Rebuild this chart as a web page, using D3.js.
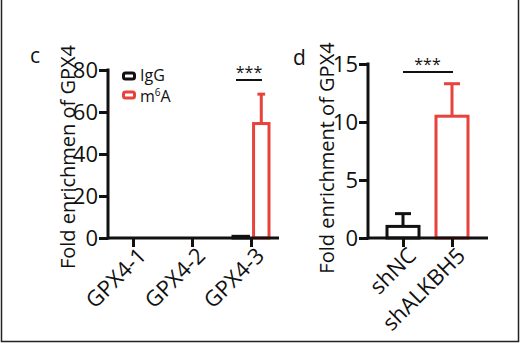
<!DOCTYPE html>
<html><head><meta charset="utf-8">
<script src="https://cdn.jsdelivr.net/npm/d3@7"></script>
<style>
body{margin:0;background:#fff;}
svg{display:block;}
text{font-family:"Open Sans",sans-serif;fill:#111;}
</style></head>
<body>
<svg id="chart" width="520" height="343"></svg>
<script>
// Panel c data
const cCategories = ["GPX4-1", "GPX4-2", "GPX4-3"];
const cSeries = ["IgG", "m6A"];
const cIgG = [0, 0, 0.8];
const cIgGErr = [0, 0, 0];
const cM6A = [0, 0, 54.5];
const cM6AErr = [0, 0, 14];
const cTicks = [0, 20, 40, 60, 80];
// Panel d data
const dCategories = ["shNC", "shALKBH5"];
const dValues = [1.0, 10.5];
const dErrors = [1.1, 2.8];
const dTicks = [0, 5, 10, 15];

const RED = "#e8423c", BLACK = "#111";
const TICK_FS = "22px", XTICK_FS = "22px", LABEL_FS = "20px";
const svg = d3.select("#chart");

// frame
svg.append("path").attr("d","M1.5,0V341.5H518.5V0").attr("fill","none").attr("stroke","#222").attr("stroke-width",1.5);

function styleAxis(g){
  g.selectAll(".domain").remove();
  g.selectAll(".tick line").attr("stroke","#111").attr("stroke-width",3);
  g.selectAll("text").style("font-size",TICK_FS).attr("fill","#111");
}

function drawBar(g, cx, w, y0, yv, yErr, color){
  if (yv === y0) return;
  g.append("rect").attr("x",cx-w/2).attr("y",yv).attr("width",w).attr("height",y0-yv)
    .attr("fill","#fff").attr("stroke",color).attr("stroke-width",3);
  if (yErr < yv){
    g.append("line").attr("x1",cx).attr("x2",cx).attr("y1",yv).attr("y2",yErr).attr("stroke",color).attr("stroke-width",3);
    g.append("line").attr("x1",cx-w/4).attr("x2",cx+w/4).attr("y1",yErr).attr("y2",yErr).attr("stroke",color).attr("stroke-width",3);
  }
}

function rotateLabels(xa){
  xa.selectAll("text").style("font-size",XTICK_FS).attr("text-anchor","end").attr("x",0).attr("y",0).attr("dy","0.71em")
    .attr("transform","translate(3,8) rotate(-45)");
}

// ---------- Panel c ----------
{
  const g = svg.append("g");
  const y = d3.scaleLinear().domain([0,80]).range([238,70]);
  const x = d3.scalePoint().domain(cCategories).range([133,251]);
  const sub = d3.scaleBand().domain(cSeries).range([-18,18]).paddingInner(0.25);
  const colors = {IgG: BLACK, m6A: RED};
  const vals = {IgG: cIgG, m6A: cM6A}, errs = {IgG: cIgGErr, m6A: cM6AErr};
  cCategories.forEach((c,i)=>{
    cSeries.forEach(s=>{
      const cx = x(c) + sub(s) + sub.bandwidth()/2;
      drawBar(g, cx, sub.bandwidth(), y(0), y(vals[s][i]), y(vals[s][i]+errs[s][i]), colors[s]);
    });
  });
  const ya = g.append("g").attr("transform","translate(108,0)")
    .call(d3.axisLeft(y).tickValues(cTicks).tickSize(9).tickPadding(1));
  styleAxis(ya);
  const xa = g.append("g").attr("transform","translate(0,238)")
    .call(d3.axisBottom(x).tickSize(9));
  styleAxis(xa);
  rotateLabels(xa);
  g.append("line").attr("x1",108).attr("x2",279).attr("y1",238).attr("y2",238).attr("stroke","#111").attr("stroke-width",3);
  g.append("line").attr("x1",108).attr("x2",108).attr("y1",y(80)-1.5).attr("y2",239.5).attr("stroke","#111").attr("stroke-width",3);
  // label
  g.append("text").attr("transform","translate(75,157) rotate(-90)").attr("text-anchor","middle")
    .style("font-size",LABEL_FS).text("Fold enrichmen of GPX4");
  g.append("text").attr("x",30).attr("y",63).style("font-size","21px").text("c");
  // legend
  const leg = [{k:"IgG",c:BLACK,y:76},{k:"m6A",c:RED,y:95}];
  leg.forEach(l=>{
    g.append("rect").attr("x",123.5).attr("y",l.y-3).attr("width",11).attr("height",6).attr("rx",2)
      .attr("fill","#fff").attr("stroke",l.c).attr("stroke-width",3);
  });
  g.append("text").attr("x",140).attr("y",81).style("font-size","16px").text("IgG");
  const t2 = g.append("text").attr("x",140).attr("y",102).style("font-size","16px");
  t2.append("tspan").text("m");
  t2.append("tspan").attr("dy",-6).style("font-size","10px").text("6");
  t2.append("tspan").attr("dy",6).text("A");
  // significance
  const gx = x("GPX4-3");
  g.append("line").attr("x1",gx-15).attr("x2",gx+11).attr("y1",80).attr("y2",80).attr("stroke","#111").attr("stroke-width",2);
  g.append("text").attr("x",gx-2).attr("y",78).attr("text-anchor","middle").style("font-size","16px").text("***");
}

// ---------- Panel d ----------
{
  const g = svg.append("g");
  const y = d3.scaleLinear().domain([0,15]).range([238,64]);
  const x = d3.scalePoint().domain(dCategories).range([403,452]);
  const bw = 32;
  dCategories.forEach((c,i)=>{
    drawBar(g, x(c), bw, y(0), y(dValues[i]), y(dValues[i]+dErrors[i]), i===0?BLACK:RED);
  });
  const ya = g.append("g").attr("transform","translate(368,0)")
    .call(d3.axisLeft(y).tickValues(dTicks).tickSize(9).tickPadding(1));
  styleAxis(ya);
  const xa = g.append("g").attr("transform","translate(0,238)")
    .call(d3.axisBottom(x).tickSize(9));
  styleAxis(xa);
  rotateLabels(xa);
  g.append("line").attr("x1",368).attr("x2",488).attr("y1",238).attr("y2",238).attr("stroke","#111").attr("stroke-width",3);
  g.append("line").attr("x1",368).attr("x2",368).attr("y1",y(15)-1.5).attr("y2",239.5).attr("stroke","#111").attr("stroke-width",3);
  g.append("text").attr("transform","translate(334,158) rotate(-90)").attr("text-anchor","middle")
    .style("font-size",LABEL_FS).text("Fold enrichment of GPX4");
  g.append("text").attr("x",293).attr("y",65).style("font-size","21px").text("d");
  g.append("line").attr("x1",x("shNC")).attr("x2",x("shALKBH5")+1).attr("y1",72).attr("y2",72).attr("stroke","#111").attr("stroke-width",2);
  g.append("text").attr("x",(x("shNC")+x("shALKBH5"))/2).attr("y",70).attr("text-anchor","middle").style("font-size","16px").text("***");
}
</script>
</body></html>
